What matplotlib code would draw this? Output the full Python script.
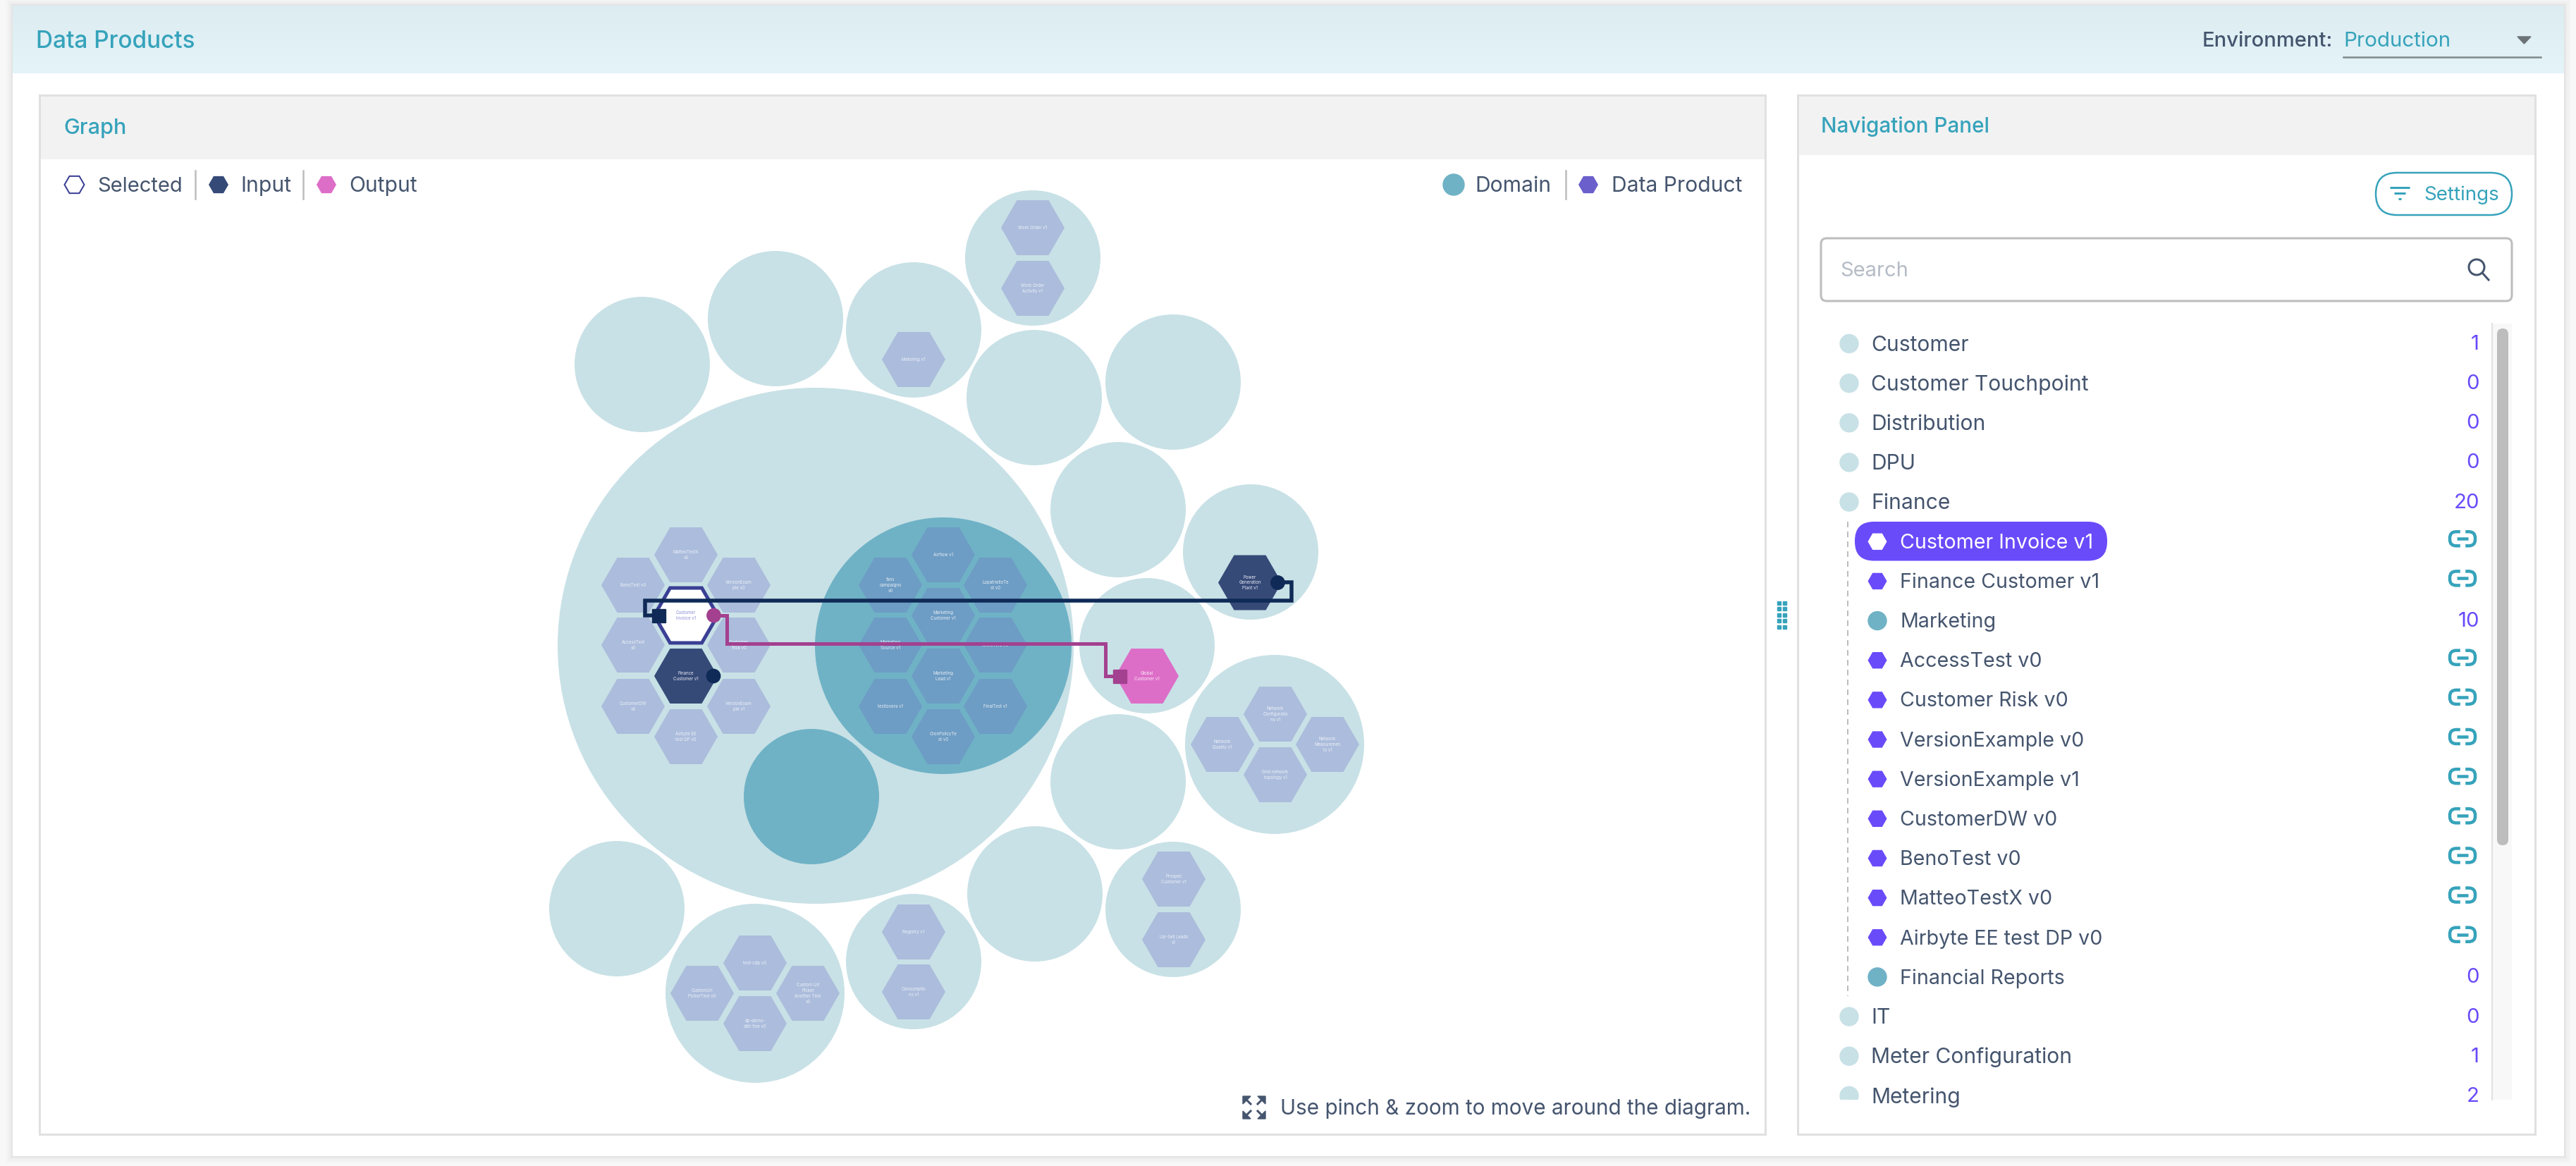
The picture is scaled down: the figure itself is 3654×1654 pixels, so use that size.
import numpy as np
import matplotlib
matplotlib.use('Agg')
import matplotlib.pyplot as plt
from matplotlib.patches import Circle, FancyBboxPatch, Polygon, Rectangle, RegularPolygon

plt.rcParams['font.family'] = ['Inter', 'DejaVu Sans']

# domain bubbles
domain_x = [1157, 911, 1100, 1296, 1465, 1467, 1664, 1586, 1774, 1627, 1808, 1586, 1468, 1664, 1296, 1071, 875]
domain_y = [916, 517, 452, 468, 366, 564, 542, 723, 783, 916, 1056, 1109, 1268, 1290, 1364, 1409, 1289]
domain_r = [366, 96, 96, 96, 96, 96, 96, 96, 96, 96, 127, 96, 96, 96, 96, 127, 96]
subdomain_x = [1338, 1151]
subdomain_y = [916, 1130]
subdomain_r = [182, 96]

# data products inside the plain domains
product_labels = [
    'MatteoTestX\nv0', 'BenoTest v0', 'VersionExam\nple v0', 'AccessTest\nv0', 'Customer\nRisk v0',
    'CustomerDW\nv0', 'VersionExam\nple v1', 'Airbyte EE\ntest DP v0',
    'Metering v1', 'Work Order v1', 'Work Order\nActivity v1',
    'Network\nConfiguratio\nns v1', 'Network\nQuality v1', 'Network\nMeasuremen\nts v1', 'Grid network\ntopology v1',
    'Prospec\nCustomer v1', 'Up-Sell Leads\nv1', 'Registry v1', 'Consumptio\nns v1',
    'test-cdp v0', 'CustomUrl\nPickerTest v0', 'Custom Url\nPicker\nAnother Test\nv0', 'dp-demo-\ndbt-five v0',
]
product_x = [973, 898, 1048, 898, 1048, 898, 1048, 973, 1296, 1465, 1465,
             1809, 1734, 1883, 1809, 1665, 1665, 1296, 1296, 1071, 996, 1146, 1071]
product_y = [787, 830, 830, 915, 915, 1002, 1002, 1045, 510, 323, 409,
             1013, 1056, 1056, 1099, 1247, 1333, 1322, 1407, 1366, 1409, 1409, 1452]

# data products in the Marketing subdomain
marketing_labels = ['Airflow v1', 'fans\ncampaigns\nv0', 'LopatrielloTe\nst v0', 'Marketing\nCustomer v1',
                    'Marketing\nSource v1', 'testlovera v0', 'Marketing\nLead v1', 'testlovera v1',
                    'FinalTest v1', 'CronPolicyTe\nst v0']
marketing_x = [1338, 1263, 1412, 1338, 1263, 1412, 1338, 1263, 1412, 1338]
marketing_y = [787, 830, 830, 873, 915, 915, 959, 1002, 1002, 1045]

# lineage path points
input_path_x = [1822, 1832, 1832, 915, 915, 930]
input_path_y = [826, 826, 852, 852, 873, 873]
output_path_x = [1020, 1031, 1031, 1568, 1568, 1585]
output_path_y = [873, 873, 913, 913, 959, 959]

# navigation list
row_labels = ['Customer', 'Customer Touchpoint', 'Distribution', 'DPU', 'Finance', 'Customer Invoice v1',
              'Finance Customer v1', 'Marketing', 'AccessTest v0', 'Customer Risk v0', 'VersionExample v0',
              'VersionExample v1', 'CustomerDW v0', 'BenoTest v0', 'MatteoTestX v0', 'Airbyte EE test DP v0',
              'Financial Reports', 'IT', 'Meter Configuration', 'Metering']
row_counts = ['1', '0', '0', '0', '20', None, None, '10', None, None, None,
              None, None, None, None, None, '0', '0', '1', '2']
row_levels = [0, 0, 0, 0, 0, 1, 1, 1, 1, 1, 1, 1, 1, 1, 1, 1, 1, 0, 0, 0]

TEAL = '#36a3bb'
SLATE = '#45556e'
VIOLET = '#6a4bfa'
LIGHT_DOMAIN = '#c8e1e6'
DARK_DOMAIN = '#6fb2c6'
LIGHT_HEX = '#abbcdc'
DARK_HEX = '#6d9cc4'
NAVY_HEX = '#364a78'
NAVY = '#0f2a56'
PINK_HEX = '#dd6ec8'
PINK = '#a3408f'
BORDER = '#e0e0e0'


def px(n):
    # figure is at dpi 100, so pixels to points
    return n * 72 / 100


def hexagon(ax, x, y, r, color, z=3, **kw):
    h = RegularPolygon((x, y), 6, radius=r, orientation=np.pi / 6, facecolor=color,
                       edgecolor=kw.pop('edgecolor', 'none'), zorder=z, **kw)
    ax.add_patch(h)
    return h


def box(ax, x0, y0, x1, y1, color, edge='none', lw=0, z=1, rounding=0):
    if rounding:
        b = FancyBboxPatch((x0, y0), x1 - x0, y1 - y0, boxstyle='round,pad=0,rounding_size=%s' % rounding,
                           facecolor=color, edgecolor=edge, linewidth=px(lw), zorder=z)
    else:
        b = Rectangle((x0, y0), x1 - x0, y1 - y0, facecolor=color, edgecolor=edge, linewidth=px(lw), zorder=z)
    ax.add_patch(b)
    return b


def link_icon(ax, x, y):
    box(ax, x - 18, y - 10, x + 18, y + 10, 'white', edge=TEAL, lw=4.5, z=6, rounding=9)
    ax.add_patch(Rectangle((x - 3, y - 13), 6, 6, color='white', zorder=7))
    ax.add_patch(Rectangle((x - 3, y + 7), 6, 6, color='white', zorder=7))
    ax.plot([x - 8, x + 8], [y, y], color=TEAL, lw=px(4.5), zorder=8, solid_capstyle='butt')


fig = plt.figure(figsize=(36.54, 16.54), dpi=100, facecolor='#f8f8f8')
ax = fig.add_axes([0, 0, 1, 1])
ax.axis('off')

# card with soft shadow
for grow, alpha in zip([10, 7, 4, 2], [0.012, 0.015, 0.02, 0.03]):
    box(ax, 18 - grow, 8 - grow, 3637 + grow, 1640 + grow, 'black', z=0).set_alpha(alpha)
box(ax, 18, 8, 3637, 1640, 'white', z=0.5)
gradient = np.linspace(0, 1, 100).reshape(-1, 1)
cmap = matplotlib.colors.LinearSegmentedColormap.from_list('head', ['#dcecf1', '#e4f4f9'])
ax.imshow(gradient, extent=[18, 3637, 104, 8], aspect='auto', cmap=cmap, zorder=0.6)

ax.text(51, 55, 'Data Products', color=TEAL, fontsize=24, va='center_baseline', weight='medium', zorder=2)
ax.text(3124, 55, 'Environment:', color=SLATE, fontsize=21, va='center_baseline', weight='medium', zorder=2)
ax.text(3324, 55, 'Production', color=TEAL, fontsize=21.3, va='center_baseline', zorder=2)
ax.add_patch(Polygon([(3571, 52), (3590, 52), (3580.5, 62)], color='#6b7377', zorder=2))
ax.plot([3324, 3604], [81, 81], color='#7f8a8a', lw=px(2.5), zorder=2)

# graph panel
box(ax, 56, 135, 2504, 1609, 'white', edge=BORDER, lw=3, z=0.7)
box(ax, 57.5, 136.5, 2502.5, 226, '#f2f2f2', z=0.8)
ax.text(90, 179, 'Graph', color=TEAL, fontsize=22, va='center_baseline', weight='medium', zorder=2)

hexagon(ax, 105.5, 262, 14, 'white', edgecolor='#3a3f94', linewidth=px(2))
ax.text(138, 261, 'Selected', color=SLATE, fontsize=21, va='center_baseline')
ax.plot([277, 277], [242, 282], color='#bdbdbd', lw=px(2.5))
hexagon(ax, 310, 262, 14, NAVY_HEX)
ax.text(341, 261, 'Input', color=SLATE, fontsize=21.6, va='center_baseline')
ax.plot([430, 430], [242, 282], color='#bdbdbd', lw=px(2.5))
hexagon(ax, 463, 262, 14, PINK_HEX)
ax.text(495, 261, 'Output', color=SLATE, fontsize=21.6, va='center_baseline')

ax.add_patch(Circle((2062, 262), 15, color=DARK_DOMAIN, zorder=3))
ax.text(2092, 261, 'Domain', color=SLATE, fontsize=21.6, va='center_baseline')
ax.plot([2221, 2221], [242, 282], color='#bdbdbd', lw=px(2.5))
hexagon(ax, 2253, 262, 14, '#6b5fcb')
ax.text(2286, 261, 'Data Product', color=SLATE, fontsize=21.6, va='center_baseline')

# the bubbles
for x, y, r in zip(domain_x, domain_y, domain_r):
    ax.add_patch(Circle((x, y), r, color=LIGHT_DOMAIN, lw=0, zorder=1))
for x, y, r in zip(subdomain_x, subdomain_y, subdomain_r):
    ax.add_patch(Circle((x, y), r, color=DARK_DOMAIN, lw=0, zorder=1.5))

label_style = dict(ha='center', va='center', fontsize=4.4, linespacing=1.35, zorder=4)
for label, x, y in zip(product_labels, product_x, product_y):
    hexagon(ax, x, y, 45, LIGHT_HEX)
    ax.text(x, y, label, color='#eef1f8', **label_style)
for label, x, y in zip(marketing_labels, marketing_x, marketing_y):
    hexagon(ax, x, y, 45, DARK_HEX)
    ax.text(x, y, label, color='#e6eef5', **label_style)

# selected, input and output products
hexagon(ax, 973, 873, 45, 'white', edgecolor='#3a3f94', linewidth=px(5), joinstyle='miter')
ax.text(973, 873, 'Customer\nInvoice v1', color='#8d8fd8', **label_style)
hexagon(ax, 973, 959, 45, NAVY_HEX)
ax.text(973, 959, 'Finance\nCustomer v1', color='#e8ebf3', **label_style)
hexagon(ax, 1773, 826.5, 45, NAVY_HEX)
ax.text(1773, 826.5, 'Power\nGeneration\nPlant v1', color='#e8ebf3', **label_style)
hexagon(ax, 1627, 959, 45, PINK_HEX)
ax.text(1627, 959, 'Global\nCustomer v1', color='#fbeaf7', **label_style)

ax.plot(input_path_x, input_path_y, color=NAVY, lw=px(5.5), zorder=5, solid_joinstyle='miter')
ax.plot(output_path_x, output_path_y, color=PINK, lw=px(5), zorder=5, solid_joinstyle='miter')
ax.add_patch(Circle((1012, 959), 9.7, color=NAVY, zorder=6))
ax.add_patch(Circle((1812.5, 826.5), 9.7, color=NAVY, zorder=6))
ax.add_patch(Circle((1012.5, 873), 9.7, color=PINK, zorder=6))
ax.add_patch(Rectangle((925, 863.5), 19, 19, color=NAVY, zorder=6))
ax.add_patch(Rectangle((1579, 949.5), 19, 19, color=PINK, zorder=6))

# zoom hint
for ex, ey, sx, sy in [(1763, 1555, 1, 1), (1795, 1555, -1, 1), (1763, 1587, 1, -1), (1795, 1587, -1, -1)]:
    ax.add_patch(Polygon([(ex, ey), (ex + 11 * sx, ey), (ex, ey + 11 * sy)], color=SLATE, zorder=3))
    ax.plot([ex + 3 * sx, ex + 11 * sx], [ey + 3 * sy, ey + 11 * sy], color=SLATE, lw=px(3), zorder=3)
ax.text(1816, 1570, 'Use pinch & zoom to move around the diagram.', color=SLATE, fontsize=21.4, va='center_baseline')

# splitter dots
for dx in [2523, 2531]:
    for dy in [855, 863, 872, 880, 889]:
        ax.add_patch(Rectangle((dx - 2, dy - 2), 4.5, 4.5, color=TEAL, zorder=3))

# navigation panel
box(ax, 2550, 135, 3596, 1609, 'white', edge=BORDER, lw=3, z=0.7)
box(ax, 2551.5, 136.5, 3594.5, 220, '#f2f2f2', z=0.8)
ax.text(2583, 176, 'Navigation Panel', color=TEAL, fontsize=21.4, va='center_baseline', weight='medium', zorder=2)

box(ax, 3370, 245, 3563, 305, 'white', edge=TEAL, lw=2.5, z=2, rounding=30)
ax.text(3438, 274, 'Settings', color=TEAL, fontsize=20, va='center_baseline', zorder=3)
for fx0, fx1, fy in [(3390, 3418, 266), (3396, 3412, 274), (3402, 3406, 282)]:
    ax.plot([fx0, fx1], [fy, fy], color=TEAL, lw=px(3), zorder=3, solid_capstyle='butt')

box(ax, 2583, 338, 3563, 427, 'white', edge='#bdbdbd', lw=3, z=2, rounding=8)
ax.text(2610, 381, 'Search', color='#b5bcc5', fontsize=21, va='center_baseline', zorder=3)
ax.add_patch(Circle((3513, 379), 11, facecolor='none', edgecolor=SLATE, lw=px(3), zorder=3))
ax.plot([3521, 3530], [387, 397], color=SLATE, lw=px(3), zorder=3)

# scrollbar
box(ax, 3535, 459, 3563, 1560, '#f8f8f8', z=2)
ax.plot([3535, 3535], [459, 1560], color=BORDER, lw=px(2), zorder=2)
box(ax, 3542, 466, 3558, 1199, '#bdbdbd', z=3, rounding=8)

# tree guide
ax.plot([2621, 2621], [740, 1413], color='#bdbdbd', lw=px(2), ls=(0, (4, 3)), zorder=2)

clip = Rectangle((2560, 440), 1000, 1120, transform=ax.transData)
for i, label in enumerate(row_labels):
    y = 487.5 + 56.15 * i
    count = row_counts[i]
    size = 21.6
    if i == 5:
        box(ax, 2631, 740, 2989, 795.5, VIOLET, z=2, rounding=27)
    if row_levels[i] == 0:
        mark = Circle((2623, y), 13, color=LIGHT_DOMAIN, zorder=3)
        ax.add_patch(mark)
        text_x = 2654.5
    else:
        text_x = 2695
        size = 20.6
        if count is None:
            mark = hexagon(ax, 2663, y, 13.5, 'white' if i == 5 else VIOLET)
        else:
            mark = Circle((2663, y), 13, color=DARK_DOMAIN, zorder=3)
            ax.add_patch(mark)
    t = ax.text(text_x, y - 1, label, color='white' if i == 5 else SLATE, fontsize=size, va='center_baseline', zorder=4)
    mark.set_clip_path(clip)
    t.set_clip_path(clip)
    if count is None:
        link_icon(ax, 3493, y - 4)
    else:
        c = ax.text(3517, y - 2, count, color=VIOLET, fontsize=21.2, ha='right', va='center_baseline', zorder=4)
        c.set_clip_path(clip)

ax.set_xlim(0, 3654)
ax.set_ylim(1654, 0)
fig.savefig('out.png', dpi=100, facecolor=fig.get_facecolor())
